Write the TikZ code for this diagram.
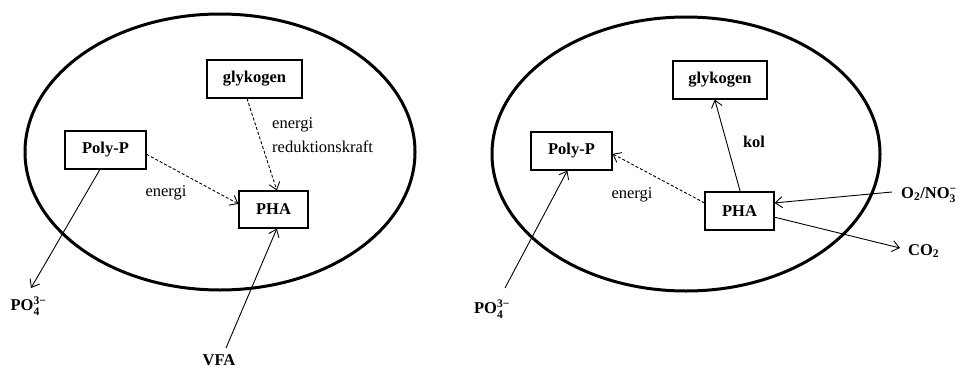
\documentclass[tikz,border=0pt]{standalone}
\usepackage{amsmath}
\usepackage{fontspec}
\setmainfont{Liberation Serif}
\usetikzlibrary{arrows.meta}
\begin{document}
\begin{tikzpicture}[x=1pt,y=-1pt,
  box/.style={draw,line width=1.1pt,inner sep=0pt,font=\fontsize{16.5}{18}\selectfont\bfseries},
  lbl/.style={inner sep=0pt,font=\fontsize{16.5}{18}\selectfont},
  blbl/.style={inner sep=0pt,font=\fontsize{16.5}{18}\selectfont\bfseries},
  cell/.style={line width=3pt},
  arr/.style={line width=0.9pt,-{Straight Barb[length=7pt,width=11pt,line width=0.9pt]}},
  darr/.style={arr,dash pattern=on 3pt off 2pt}]
\useasboundingbox (0,0) rectangle (961,367);
% ---------- left cell ----------
\draw[cell] (220,152) ellipse [x radius=195, y radius=138];
\node[box,minimum width=95pt,minimum height=38pt] (glyL) at (254.5,79) {glykogen};
\node[box,minimum width=81pt,minimum height=38pt] (polyL) at (105.5,150) {Poly-P};
\node[box,minimum width=69pt,minimum height=37pt] (phaL) at (273.5,209.5) {PHA};
\node[blbl] (po4L) at (28.5,306) {PO\ensuremath{_{\textbf{4}}^{\textbf{3−}}}};
\node[blbl] (vfa) at (219,360) {VFA};
\coordinate (po4Lend) at (31,288);
\coordinate (vfastart) at (226,348);
\draw[darr] (polyL.-6) -- (phaL.171);
\draw[darr] (glyL.-111) -- (phaL.80);
\draw[arr] (polyL.-106) -- (po4Lend);
\draw[arr] (vfastart) -- (phaL.-80);
\node[lbl] (enL) at (166,193) {energi};
\node[lbl,anchor=west] (en2L) at (272,125) {energi};
\node[lbl,anchor=west] (redL) at (272,147) {reduktionskraft};
% ---------- right cell ----------
\draw[cell] (686,154) ellipse [x radius=194, y radius=137];
\node[box,minimum width=94pt,minimum height=38pt] (glyR) at (720,80) {glykogen};
\node[box,minimum width=81pt,minimum height=38pt] (polyR) at (571.5,151) {Poly-P};
\node[box,minimum width=69pt,minimum height=38pt] (phaR) at (739.5,211) {PHA};
\node[blbl] (po4R) at (492,309) {PO\ensuremath{_{\textbf{4}}^{\textbf{3−}}}};
\node[blbl,anchor=west] (o2) at (901,195) {O\ensuremath{_{\textbf{2}}}/NO\ensuremath{_{\textbf{3}}^{\textbf{−}}}};
\node[blbl,anchor=west] (co2) at (908,251) {CO\ensuremath{_{\textbf{2}}}};
\coordinate (o2start) at (892,192);
\coordinate (co2end) at (900,248);
\coordinate (po4Rstart) at (505,288);
\draw[darr] (phaR.167) -- (polyR.-4);
\draw[arr] (phaR.88) -- (glyR.-105);
\draw[arr] (o2start) -- (phaR.13);
\draw[arr] (phaR.-10) -- (co2end);
\draw[arr] (po4Rstart) -- (polyR.-102);
\node[blbl] (kol) at (754,142) {kol};
\node[lbl] (enR) at (632,195) {energi};
\end{tikzpicture}
\end{document}
